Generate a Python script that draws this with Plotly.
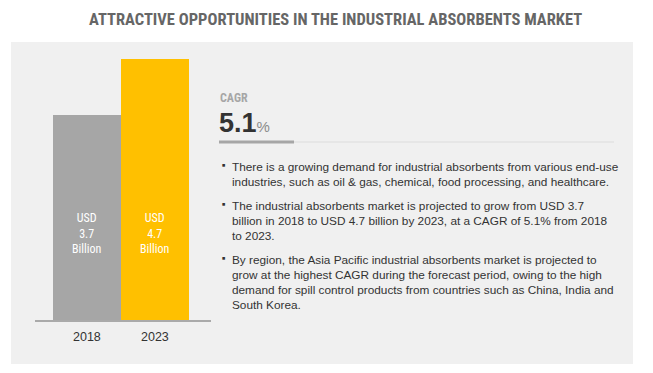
import plotly.graph_objects as go

# The page body has an 8px default margin, so the figure is drawn 8px in
# from the top-left corner; size and coordinates compensate for it.
OFF = 8
W, H = 653 - OFF, 373 - OFF

years = ["2018", "2023"]
values = [3.7, 4.7]
bar_colors = ["#a6a6a6", "#ffc000"]
title_text = "ATTRACTIVE OPPORTUNITIES IN THE INDUSTRIAL ABSORBENTS MARKET"
cagr_value = "5.1"
bullets = [
    ["There is a growing demand for industrial absorbents from various end-use",
     "industries, such as oil &amp; gas, chemical, food processing, and healthcare."],
    ["The industrial absorbents market is projected to grow from USD 3.7",
     "billion in 2018 to USD 4.7 billion by 2023, at a CAGR of 5.1% from 2018",
     "to 2023."],
    ["By region, the Asia Pacific industrial absorbents market is projected to",
     "grow at the highest CAGR during the forecast period, owing to the high",
     "demand for spill control products from countries such as China, India and",
     "South Korea."],
]
bullet_first_line = [167, 206, 260]
LINE_STEP = 15

FONT = "Liberation Sans Narrow, Arial Narrow, Roboto Condensed, Liberation Sans, sans-serif"
BODY_FONT = "Liberation Sans, Arial, sans-serif"
PANEL = "#f0f0f0"


def px(x):
    return (x - OFF) / W


def py(y):
    return 1 - (y - OFF) / H


fig = go.Figure()
fig.add_trace(go.Bar(
    x=[0, 1], y=values, width=1.0,
    marker=dict(color=bar_colors, line=dict(width=0)),
    hoverinfo="skip",
))

# plot area geometry (page pixels)
base_y, top_y = 321, 42
ymax = (base_y - top_y) / 55.8

annotations = []
for i, (yr, v) in enumerate(zip(years, values)):
    annotations.append(dict(
        x=i, y=1.56, xref="x", yref="y",
        text=f"USD<br>{v}<br>Billion", showarrow=False,
        font=dict(family=FONT, size=12, color="white"), align="center",
    ))
    annotations.append(dict(
        x=i, y=0, xref="x", yref="y", yanchor="middle", yshift=-16,
        text=yr, showarrow=False,
        font=dict(family=BODY_FONT, size=12.5, color="#333333"),
    ))

annotations.append(dict(
    x=px(335), y=py(20), xref="paper", yref="paper", text=title_text,
    showarrow=False, xanchor="center", yanchor="middle",
    font=dict(family=FONT, size=16.5, color="#666666", weight="bold"),
))
annotations.append(dict(
    x=px(218), y=py(98), xref="paper", yref="paper", text="<b>CAGR</b>",
    showarrow=False, xanchor="left", yanchor="middle",
    font=dict(family=FONT, size=12, color="#a6a6a6"),
))
annotations.append(dict(
    x=px(217), y=py(123), xref="paper", yref="paper",
    text=f"<b>{cagr_value}</b><span style='font-size:15px;color:#8c8c8c'>%</span>",
    showarrow=False, xanchor="left", yanchor="middle",
    font=dict(family=BODY_FONT, size=27, color="#333333"),
))
for y0, lines in zip(bullet_first_line, bullets):
    annotations.append(dict(
        x=px(220.5), y=py(y0 - 2), xref="paper", yref="paper", text="■",
        showarrow=False, xanchor="left", yanchor="middle",
        font=dict(family=BODY_FONT, size=5.5, color="#333333"),
    ))
    for k, line in enumerate(lines):
        annotations.append(dict(
            x=px(230), y=py(y0 + k * LINE_STEP), xref="paper", yref="paper", text=line,
            showarrow=False, xanchor="left", yanchor="middle", align="left",
            font=dict(family=BODY_FONT, size=11.8, color="#333333"),
        ))

shapes = [
    dict(type="rect", xref="paper", yref="paper", x0=px(11), x1=px(633),
         y0=py(364), y1=py(42), fillcolor=PANEL, line=dict(width=0), layer="below"),
    dict(type="line", xref="paper", yref="paper", x0=px(219), x1=px(614),
         y0=py(142), y1=py(142), line=dict(color="#dcdcdc", width=1)),
    dict(type="line", xref="paper", yref="paper", x0=px(219), x1=px(294),
         y0=py(142), y1=py(142), line=dict(color="#a6a6a6", width=3)),
    # category baseline
    dict(type="line", xref="paper", yref="paper", x0=px(35), x1=px(211),
         y0=py(321), y1=py(321), line=dict(color="#aaaaaa", width=2)),
]

fig.update_layout(
    template="none",
    width=W, height=H, margin=dict(l=0, r=0, t=0, b=0, pad=0, autoexpand=False),
    paper_bgcolor="white", plot_bgcolor=PANEL,
    showlegend=False, bargap=0,
    annotations=annotations, shapes=shapes,
    xaxis=dict(domain=[px(35), px(211)], range=[-0.765, 1.824], visible=False,
               showline=False, showgrid=False, zeroline=False, automargin=False,
               fixedrange=True),
    yaxis=dict(domain=[py(base_y), py(top_y)], range=[0, ymax], visible=False,
               showgrid=False, zeroline=False, showline=False, automargin=False,
               fixedrange=True),
)

fig.write_html("out.html", config={"displayModeBar": False})
